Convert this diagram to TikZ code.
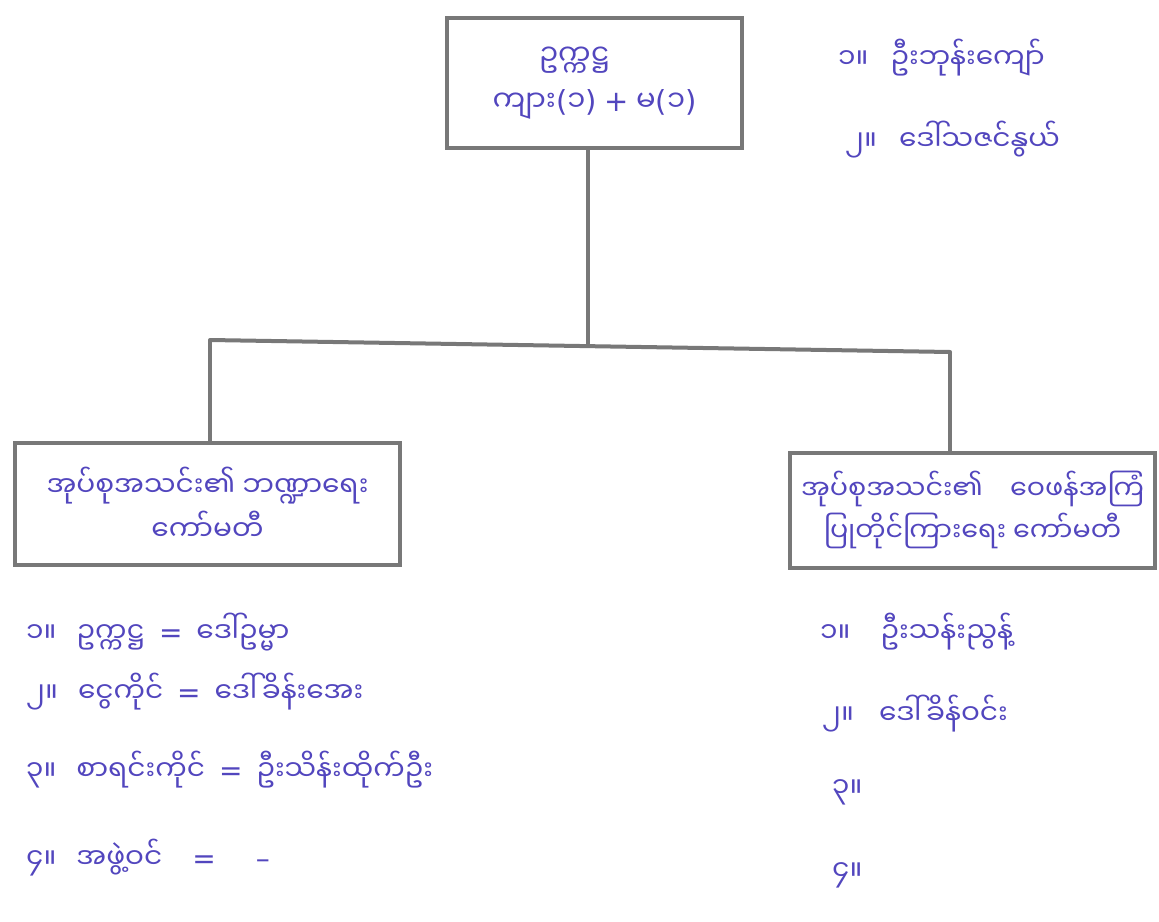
\documentclass[tikz,border=0pt]{standalone}
\usepackage{fontspec}
\newfontfamily\my[Script=Myanmar]{Noto Sans Myanmar UI}
\newfontfamily\latf{DejaVu Sans}
\newcommand\sym[1]{{\latf #1}}
\newcommand\eqs{\hspace{14pt}\sym{=}\hspace{14pt}}
\definecolor{ink}{RGB}{82,70,190}
\definecolor{pencil}{RGB}{120,120,120}
\begin{document}
\begin{tikzpicture}[x=1pt,y=-1pt]
\tikzset{
  boxframe/.style={draw=pencil,line width=4pt,align=center,text=ink,font=\my\fontsize{29}{46}\selectfont,inner sep=0pt},
  conn/.style={draw=pencil,line width=4pt},
  item/.style={anchor=west,text=ink,font=\my\fontsize{28}{34}\selectfont,inner sep=0pt}
}
\useasboundingbox (0,0) rectangle (1159,921);
\fill[white] (0,0) rectangle (1159,921);

% boxes
\node[boxframe,minimum width=295pt,minimum height=130pt] (top) at (594.5,83)
  {ဥက္ကဋ္ဌ\hspace*{40pt}\\ကျား\sym{(}၁\sym{)} \sym{+} မ\sym{(}၁\sym{)}};
\node[boxframe,minimum width=385pt,minimum height=122pt,font=\my\fontsize{28}{44}\selectfont] (left) at (207.5,504)
  {အုပ်စုအသင်း၏ ဘဏ္ဍာရေး\\ကော်မတီ};
\node[boxframe,minimum width=365pt,minimum height=115pt,font=\my\fontsize{27}{42}\selectfont] (right) at (972.5,510)
  {အုပ်စုအသင်း၏\quad ဝေဖန်အကြံ\\ပြုတိုင်ကြားရေး ကော်မတီ};

% connectors
\coordinate (jm) at (588,345);
\coordinate (jl) at (210,340);
\coordinate (jr) at (950,352);
\draw[conn] (jm |- top.south) -- (jm);
\draw[conn,line cap=round] (jl) -- (jr);
\draw[conn] (jl) -- (jl |- left.north);
\draw[conn] (jr) -- (jr |- right.north);

% top-right list
\node[item] (t1) at (838,58) {၁။\hspace{22pt}ဦးဘုန်းကျော်};
\node[item] (t2) at (845,140) {၂။\hspace{22pt}ဒေါ်သဇင်နွယ်};

% left list
\node[item] (l1) at (26,632) {၁။\hspace{20pt}ဥက္ကဋ္ဌ\eqs ဒေါ်ဥမ္မာ};
\node[item] (l2) at (26,692) {၂။\hspace{20pt}ငွေကိုင်\eqs ဒေါ်ခိန်းအေး};
\node[item] (l3) at (26,770) {၃။\hspace{20pt}စာရင်းကိုင်\eqs ဦးသိန်းထိုက်ဦး};
\node[item] (l4) at (26,858) {၄။\hspace{20pt}အဖွဲ့ဝင်\hspace{30pt}\sym{=}\hspace{40pt}\sym{–}};

% right list
\node[item] (r1) at (820,632) {၁။\hspace{30pt}ဦးသန်းညွန့်};
\node[item] (r2) at (822,714) {၂။\hspace{25pt}ဒေါ်ခိန်ဝင်း};
\node[item] (r3) at (832,792) {၃။};
\node[item] (r4) at (832,875) {၄။};
\end{tikzpicture}
\end{document}
